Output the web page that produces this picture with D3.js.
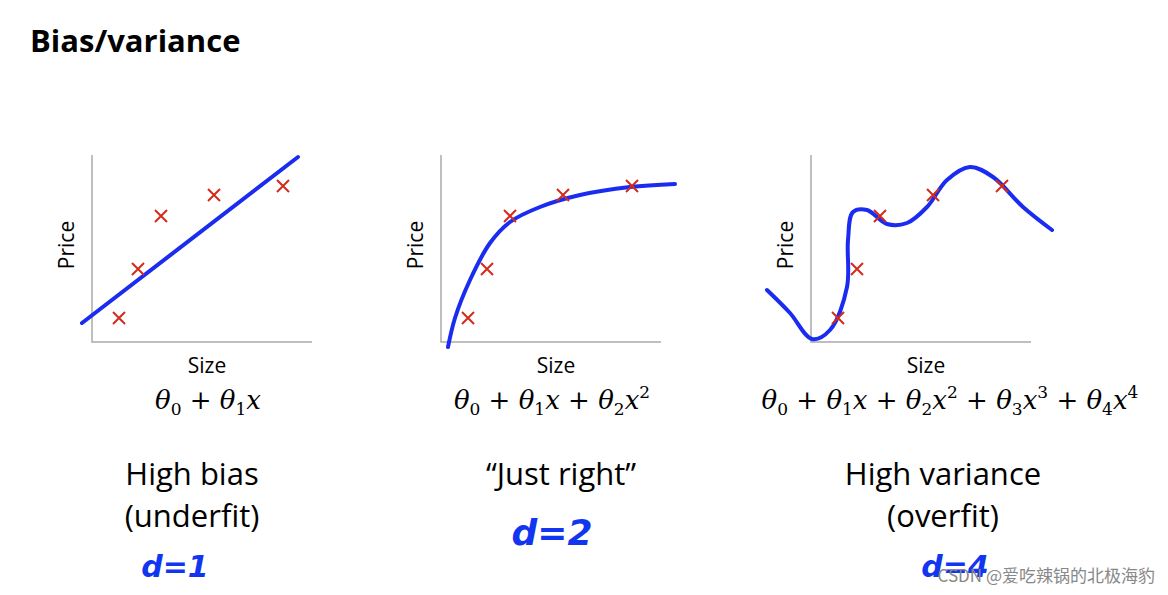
<!DOCTYPE html>
<html><head><meta charset="utf-8">
<script src="https://cdn.jsdelivr.net/npm/d3@7"></script>
<style>body{margin:0;background:#fff}svg{display:block}</style>
</head><body>
<svg id="c" width="1168" height="595"></svg>
<script>
// values are offsets from each panel origin
const points = [[27,24],[46,73],[69,126],[122,147],[191,156]];
const fit1 = [[-10,19],[206,185]];
const fit2 = [[7,-5],[14,24],[29,62],[49,99],[69,120],[99,135],[139,147],[189,155],[234,158]];
const fit4 = [[-44,52],[-21,29],[1,3],[19,12],[36,55],[37,102],[42,130],[56,132],[76,118],[96,119],
  [116,135],[136,162],[159,175],[182,165],[212,135],[241,112]];
const panelOrigins = [[92,342],[441,342],[811,342]];
const fits = [fit1, fit2, fit4];
const titles = [["High bias","(underfit)"],["\u201CJust right\u201D"],["High variance","(overfit)"]];
const degrees = ["d=1","d=2","d=4"];
// formulas: [base, subscript, superscript]
const formulas = [
  [["θ","0"],[" + θ","1"],["x"]],
  [["θ","0"],[" + θ","1"],["x + θ","2"],["x","","2"]],
  [["θ","0"],[" + θ","1"],["x + θ","2"],["x","","2"],[" + θ","3"],["x","","3"],[" + θ","4"],["x","","4"]]
];

const svg = d3.select('#c');
svg.append('text').attr('x',30).attr('y',52).text('Bias/variance')
  .style('font-family','Open Sans, sans-serif').style('font-weight','bold').style('font-size','31px');

panelOrigins.forEach(([ox,oy],i) => {
  const g = svg.append('g');
  const x = d3.scaleLinear().domain([0,220]).range([ox,ox+220]);
  const y = d3.scaleLinear().domain([0,187]).range([oy,oy-187]);
  g.append('path').attr('d',`M${x(0)},${y(187)}V${y(0)}H${x(220)}`)
    .attr('fill','none').attr('stroke','#aaa').attr('stroke-width',1.5);
  g.append('path').datum(fits[i])
    .attr('d',d3.line().x(d=>x(d[0])).y(d=>y(d[1])).curve(d3.curveCatmullRom))
    .attr('fill','none').attr('stroke','#1a2cf0').attr('stroke-width',4).attr('stroke-linecap','round');
  g.selectAll('.pt').data(points).join('path')
    .attr('d',d=>{const a=x(d[0]),b=y(d[1]);return `M${a-6},${b-6}L${a+6},${b+6}M${a-6},${b+6}L${a+6},${b-6}`;})
    .attr('stroke','#d42a1c').attr('stroke-width',2);
  g.append('text').attr('transform',`translate(${ox-18},${oy-97}) rotate(-90)`).attr('text-anchor','middle')
    .text('Price').style('font-family','Open Sans, sans-serif').style('font-size','21px');
  g.append('text').attr('x',ox+115).attr('y',oy+31).attr('text-anchor','middle')
    .text('Size').style('font-family','Open Sans, sans-serif').style('font-size','21px');

  const cx = [208,552,950][i];
  const ft = g.append('text').attr('x',cx).attr('y',oy+67).attr('text-anchor','middle')
    .style('font-family','DejaVu Serif, serif').style('font-size','26px');
  formulas[i].forEach(([base,sub,sup]) => {
    ft.append('tspan').text(base).style('font-style','italic');
    if (sub) ft.append('tspan').text(sub).attr('dy',6).style('font-size','17px')
      .clone().text('\u200B').attr('dy',-6);
    if (sup) ft.append('tspan').text(sup).attr('dy',-11).style('font-size','17px')
      .clone().text('\u200B').attr('dy',11);
  });

  titles[i].forEach((t,j) => {
    g.append('text').attr('x',[192,561,943][i]).attr('y',485+j*42).attr('text-anchor','middle')
      .text(t).style('font-family','Open Sans, sans-serif').style('font-size','31px');
  });
  g.append('text').attr('x',[175,552,955][i]).attr('y',[577,545,577][i]).attr('text-anchor','middle')
    .text(degrees[i]).style('font-family','Comic Sans MS, DejaVu Sans, sans-serif')
    .style('font-weight','bold').style('font-style','italic')
    .style('font-size',i===1?'36px':'30px').attr('fill','#1236f0');
});

svg.append('text').attr('x',1155).attr('y',582).attr('text-anchor','end')
  .text('CSDN @爱吃辣锅的北极海豹').style('font-family','Noto Sans CJK SC, sans-serif')
  .style('font-size','17px').attr('fill','#888');
</script>
</body></html>
